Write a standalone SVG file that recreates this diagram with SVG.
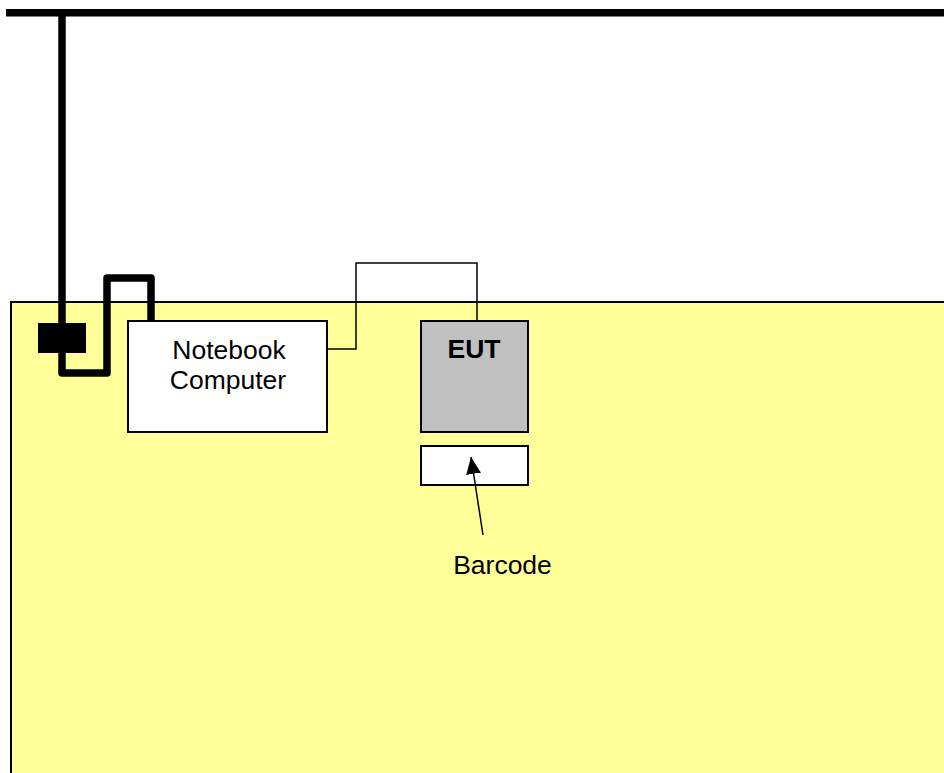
<svg xmlns="http://www.w3.org/2000/svg" width="944" height="773" viewBox="0 0 944 773">
<style>
text{font-family:"Liberation Sans",Arial,sans-serif;font-size:26.5px;fill:#000}
.box{stroke:#000;stroke-width:2}
.thin{fill:none;stroke:#000;stroke-width:1.5}
.thick{fill:none;stroke:#000;stroke-width:7.5;stroke-linejoin:round}
</style>
<defs>
<marker id="ah" markerWidth="18" markerHeight="18" refX="17" refY="9" orient="auto" markerUnits="userSpaceOnUse" viewBox="0 0 18 18">
<path d="M0,1.5 L17,9 L0,16.5 z" fill="#000"/>
</marker>
</defs>
<rect x="0" y="0" width="944" height="773" fill="#fff"/>
<g id="table">
<rect x="11" y="302" width="940" height="480" fill="#FFFF99" class="box"/>
</g>
<g id="mains">
<rect x="6" y="9" width="940" height="7.5" fill="#000"/>
</g>
<g id="adapter">
<rect x="38" y="323" width="48" height="30" fill="#000"/>
</g>
<g id="notebook">
<rect x="128" y="321" width="199" height="111" fill="#fff" class="box"/>
<text x="229" y="359" text-anchor="middle">Notebook</text>
<text x="228" y="389" text-anchor="middle">Computer</text>
</g>
<g id="eut">
<rect x="421" y="321" width="107" height="111" fill="#C0C0C0" class="box"/>
<text x="474" y="358" text-anchor="middle" font-weight="bold">EUT</text>
</g>
<g id="barcode-box">
<rect x="421" y="446" width="107" height="39" fill="#fff" class="box"/>
</g>
<g id="barcode-label">
<text x="502.5" y="574" text-anchor="middle">Barcode</text>
</g>
<g id="connectors">
<path class="thick" d="M62,12 V373 H107 V278 H151 V322"/>
<path class="thin" d="M327,349 H356 V263 H477 V321"/>
<line x1="483" y1="535" x2="471" y2="457" stroke="#000" stroke-width="1.5" marker-end="url(#ah)"/>
</g>
</svg>
